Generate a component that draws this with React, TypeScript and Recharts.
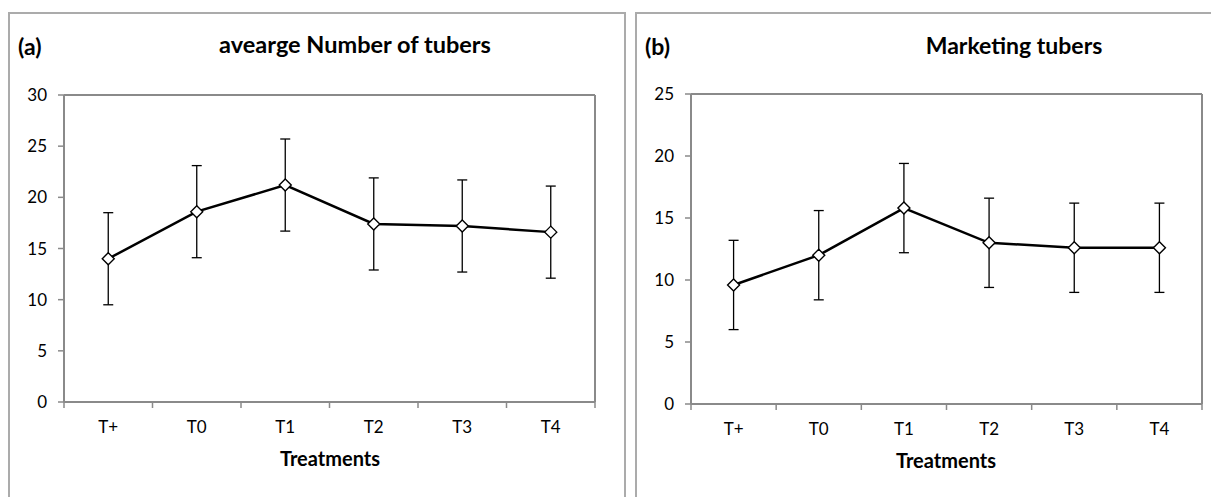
import { CartesianGrid, ErrorBar, Line, LineChart, XAxis, YAxis } from "recharts";

// treatments on the x axis, shared by both panels
const categories = ["T+", "T0", "T1", "T2", "T3", "T4"];

// (a) average number of tubers per plant, with SD
const tuberCount = [14.0, 18.6, 21.2, 17.4, 17.2, 16.6];
const tuberCountErr = [4.5, 4.5, 4.5, 4.5, 4.5, 4.5];
const tuberTicks = [0, 5, 10, 15, 20, 25, 30];

// (b) marketable tubers, with SD
const marketable = [9.6, 12.0, 15.8, 13.0, 12.6, 12.6];
const marketableErr = [3.6, 3.6, 3.6, 3.6, 3.6, 3.6];
const marketableTicks = [0, 5, 10, 15, 20, 25];

const FONT = "Lato, 'Liberation Sans', sans-serif";
const AXIS_GREY = "#8a8a8a";
const X_TICK_MARGIN = 19;

const tuberRows = categories.map((name, i) => ({
  name,
  value: tuberCount[i],
  err: tuberCountErr[i],
}));
const marketableRows = categories.map((name, i) => ({
  name,
  value: marketable[i],
  err: marketableErr[i],
}));

function Diamond({ cx, cy }: any) {
  if (cx == null || cy == null) return null;
  const r = 6;
  return (
    <path
      d={`M${cx},${cy - r}L${cx + r},${cy}L${cx},${cy + r}L${cx - r},${cy}Z`}
      fill="#fff"
      stroke="#000"
      strokeWidth={1.4}
    />
  );
}

// category label at the band centre, tick marks on the band edges (Excel style)
function CategoryTick(props: any) {
  const { x, y, payload, index, visibleTicksCount, width } = props;
  const half = payload.offset || width / visibleTicksCount / 2;
  const axisY = y - X_TICK_MARGIN;
  const last = index === visibleTicksCount - 1;
  return (
    <g>
      <line x1={x - half} x2={x - half} y1={axisY} y2={axisY + 6} stroke={AXIS_GREY} strokeWidth={1.5} />
      {last && (
        <line x1={x + half} x2={x + half} y1={axisY} y2={axisY + 6} stroke={AXIS_GREY} strokeWidth={1.5} />
      )}
      <text x={x} y={y} dy="0.71em" textAnchor="middle" fill="#000" fontSize={17} fontFamily={FONT}>
        {payload.value}
      </text>
    </g>
  );
}

function Panel({
  rows,
  ticks,
  width,
  yAxisWidth,
  margin,
}: {
  rows: { name: string; value: number; err: number }[];
  ticks: number[];
  width: number;
  yAxisWidth: number;
  margin: { top: number; right: number; left: number; bottom: number };
}) {
  return (
    <LineChart width={width} height={489} data={rows} margin={margin}>
      {/* top and right edges of the plot frame */}
      <CartesianGrid
        stroke={AXIS_GREY}
        strokeWidth={2}
        horizontalCoordinatesGenerator={({ offset }: any) => [offset.top]}
        verticalCoordinatesGenerator={({ offset }: any) => [offset.left + offset.width]}
      />
      <XAxis
        dataKey="name"
        scale="band"
        axisLine={{ stroke: AXIS_GREY, strokeWidth: 2 }}
        tickLine={false}
        tickSize={0}
        tickMargin={X_TICK_MARGIN}
        height={40}
        interval={0}
        tick={<CategoryTick />}
      />
      <YAxis
        domain={[ticks[0], ticks[ticks.length - 1]]}
        ticks={ticks}
        width={yAxisWidth}
        axisLine={{ stroke: AXIS_GREY, strokeWidth: 2 }}
        tickLine={{ stroke: AXIS_GREY, strokeWidth: 1.5 }}
        tickSize={6}
        tickMargin={11}
        tick={{ fill: "#000", fontSize: 17, fontFamily: FONT }}
      />
      <Line
        dataKey="value"
        stroke="#000"
        strokeWidth={2.5}
        dot={Diamond}
        activeDot={false}
        isAnimationActive={false}
      >
        <ErrorBar dataKey="err" direction="y" width={5} stroke="#000" strokeWidth={1.3} isAnimationActive={false} />
      </Line>
    </LineChart>
  );
}

const frame: React.CSSProperties = {
  position: "absolute",
  top: 4,
  height: 520,
  border: "2px solid #ababab",
  boxSizing: "border-box",
};

const heading: React.CSSProperties = {
  position: "absolute",
  fontFamily: FONT,
  fontWeight: 700,
  color: "#000",
  lineHeight: 1,
  whiteSpace: "nowrap",
};

export default function App() {
  return (
    <div style={{ position: "relative", width: 1211, height: 489, overflow: "hidden", background: "#fff" }}>
      <div style={{ ...frame, left: 0, width: 618 }} />
      <div style={{ ...frame, left: 627, width: 640 }} />

      <div style={{ position: "absolute", left: 0, top: 0 }}>
        <Panel
          rows={tuberRows}
          ticks={tuberTicks}
          width={617}
          yAxisWidth={56}
          margin={{ top: 87, right: 30, left: 0, bottom: 55 }}
        />
      </div>
      <div style={{ position: "absolute", left: 628, top: 0 }}>
        <Panel
          rows={marketableRows}
          ticks={marketableTicks}
          width={583}
          yAxisWidth={55}
          margin={{ top: 86, right: 17, left: 0, bottom: 53 }}
        />
      </div>

      <div style={{ ...heading, left: 10, top: 38, fontSize: 23, transform: "translateY(-50%)" }}>(a)</div>
      <div style={{ ...heading, left: 347, top: 37, fontSize: 23.5, transform: "translate(-50%, -50%)" }}>
        avearge Number of tubers
      </div>
      <div style={{ ...heading, left: 322, top: 450, fontSize: 20, transform: "translate(-50%, -50%)" }}>
        Treatments
      </div>

      <div style={{ ...heading, left: 637, top: 38, fontSize: 23, transform: "translateY(-50%)" }}>(b)</div>
      <div style={{ ...heading, left: 1006, top: 37, fontSize: 23, transform: "translate(-50%, -50%)" }}>
        Marketing tubers
      </div>
      <div style={{ ...heading, left: 938, top: 452, fontSize: 20, transform: "translate(-50%, -50%)" }}>
        Treatments
      </div>
    </div>
  );
}
